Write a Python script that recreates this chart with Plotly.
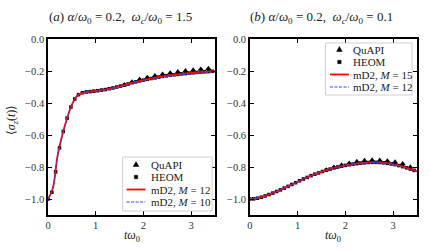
import plotly.graph_objects as go

# ---------------- data ----------------
# panel (a)
t_line = [round(0.1 * i, 2) for i in range(36)]
a_md2_m12 = [-1.000, -0.935, -0.730, -0.600, -0.495, -0.410, -0.358, -0.338, -0.331, -0.328,
             -0.325, -0.320, -0.316, -0.310, -0.303, -0.296, -0.288, -0.279, -0.271, -0.264,
             -0.257, -0.251, -0.245, -0.239, -0.234, -0.229, -0.225, -0.221, -0.218, -0.215,
             -0.212, -0.209, -0.207, -0.205, -0.203, -0.201]
a_md2_m10 = [-1.000, -0.935, -0.732, -0.602, -0.497, -0.412, -0.360, -0.340, -0.333, -0.330,
             -0.327, -0.322, -0.318, -0.313, -0.306, -0.299, -0.291, -0.283, -0.275, -0.268,
             -0.262, -0.256, -0.250, -0.244, -0.239, -0.235, -0.231, -0.227, -0.224, -0.221,
             -0.218, -0.215, -0.213, -0.211, -0.209, -0.207]

t_quapi = [1.60, 1.76, 1.92, 2.08, 2.24, 2.40, 2.56, 2.72, 2.88, 3.04, 3.20, 3.36]
a_quapi = [-0.286, -0.268, -0.252, -0.240, -0.229, -0.220, -0.212, -0.205, -0.199, -0.194,
           -0.189, -0.185]

t_heom = [round(0.08 * i, 2) for i in range(44)]
a_heom = [-1.000, -0.958, -0.830, -0.680, -0.578, -0.495, -0.425, -0.375, -0.348, -0.336,
          -0.331, -0.329, -0.326, -0.323, -0.319, -0.316, -0.311, -0.306, -0.300, -0.294,
          -0.288, -0.281, -0.273, -0.268, -0.262, -0.257, -0.252, -0.247, -0.243, -0.238,
          -0.234, -0.230, -0.227, -0.224, -0.221, -0.218, -0.216, -0.213, -0.211, -0.209,
          -0.207, -0.205, -0.204, -0.202]

# panel (b)
b_md2_m15 = [-1.000, -0.998, -0.992, -0.983, -0.972, -0.961, -0.948, -0.935, -0.921, -0.906,
             -0.892, -0.878, -0.865, -0.852, -0.841, -0.830, -0.820, -0.811, -0.803, -0.796,
             -0.790, -0.785, -0.780, -0.777, -0.774, -0.772, -0.771, -0.772, -0.774, -0.778,
             -0.783, -0.790, -0.798, -0.807, -0.817, -0.827]
b_md2_m12 = [-1.000, -0.998, -0.992, -0.983, -0.972, -0.961, -0.948, -0.935, -0.921, -0.906,
             -0.892, -0.878, -0.865, -0.852, -0.841, -0.830, -0.820, -0.811, -0.803, -0.796,
             -0.790, -0.785, -0.781, -0.777, -0.775, -0.773, -0.772, -0.773, -0.775, -0.779,
             -0.784, -0.791, -0.799, -0.808, -0.818, -0.828]
b_quapi = [-0.818, -0.802, -0.788, -0.776, -0.766, -0.760, -0.757, -0.758, -0.762, -0.769,
           -0.780, -0.800]
b_heom = [-1.000, -0.999, -0.995, -0.989, -0.981, -0.972, -0.963, -0.953, -0.943, -0.932,
          -0.921, -0.909, -0.898, -0.886, -0.875, -0.865, -0.854, -0.845, -0.837, -0.828,
          -0.820, -0.813, -0.806, -0.800, -0.795, -0.790, -0.786, -0.782, -0.779, -0.776,
          -0.774, -0.772, -0.771, -0.771, -0.772, -0.774, -0.777, -0.781, -0.785, -0.791,
          -0.798, -0.805, -0.813, -0.821]

y_ticks = [0.0, -0.2, -0.4, -0.6, -0.8, -1.0]
x_ticks = [0, 1, 2, 3]

legend_a = ["QuAPI", "HEOM", "mD2, <i>M</i> = 12", "mD2, <i>M</i> = 10"]
legend_b = ["QuAPI", "HEOM", "mD2, <i>M</i> = 15", "mD2, <i>M</i> = 12"]

FONT = "Liberation Serif"
RED = "red"
BLUE = "#3344ff"

# ---------------- figure ----------------
W, H = 430, 251
ML, MR, MT, MB = 48, 11, 39, 36
PW, PH = W - ML - MR, H - MT - MB


def px(x):
    return (x - ML) / PW


def py(y):
    return (H - MB - y) / PH


fig = go.Figure()


def add_panel(xa, ya, quapi, heom, l1, l2):
    fig.add_trace(go.Scatter(x=t_quapi, y=quapi, mode="markers", name="QuAPI",
                             marker=dict(symbol="triangle-up", size=5.5, color="black"),
                             xaxis=xa, yaxis=ya, showlegend=False))
    fig.add_trace(go.Scatter(x=t_heom, y=heom, mode="markers", name="HEOM",
                             marker=dict(symbol="square", size=3.5, color="black"),
                             xaxis=xa, yaxis=ya, showlegend=False))
    fig.add_trace(go.Scatter(x=t_line, y=l1, mode="lines", line_shape="spline",
                             line=dict(color=RED, width=1.8),
                             xaxis=xa, yaxis=ya, showlegend=False))
    fig.add_trace(go.Scatter(x=t_line, y=l2, mode="lines", line_shape="spline",
                             line=dict(color=BLUE, width=1, dash="3px,1.5px"),
                             xaxis=xa, yaxis=ya, showlegend=False))


add_panel("x", "y", a_quapi, a_heom, a_md2_m12, a_md2_m10)
add_panel("x2", "y2", b_quapi, b_heom, b_md2_m15, b_md2_m12)


def draw_legend(x0, y0, x1, y1, sym_x, text_x, rows, labels):
    fig.add_shape(type="rect", xref="paper", yref="paper",
                  x0=px(x0), x1=px(x1), y0=py(y1), y1=py(y0),
                  line=dict(color="#cccccc", width=1), fillcolor="white",
                  opacity=0.9, layer="above")
    # triangle
    cy = rows[0]
    fig.add_shape(type="path", xref="paper", yref="paper", layer="above",
                  path=f"M {px(sym_x)} {py(cy - 3)} L {px(sym_x - 2.8)} {py(cy + 2)} "
                       f"L {px(sym_x + 2.8)} {py(cy + 2)} Z",
                  fillcolor="black", line=dict(color="black", width=0.5))
    # square
    cy = rows[1]
    fig.add_shape(type="rect", xref="paper", yref="paper", layer="above",
                  x0=px(sym_x - 1.7), x1=px(sym_x + 1.7), y0=py(cy + 1.7), y1=py(cy - 1.7),
                  fillcolor="black", line=dict(color="black", width=0.5))
    # lines
    fig.add_shape(type="line", xref="paper", yref="paper", layer="above",
                  x0=px(sym_x - 9.5), x1=px(sym_x + 9.5), y0=py(rows[2]), y1=py(rows[2]),
                  line=dict(color=RED, width=1.8))
    fig.add_shape(type="line", xref="paper", yref="paper", layer="above",
                  x0=px(sym_x - 9.5), x1=px(sym_x + 9.5), y0=py(rows[3]), y1=py(rows[3]),
                  line=dict(color=BLUE, width=1, dash="3px,1.5px"))
    for lab, r in zip(labels, rows):
        fig.add_annotation(text=lab, x=px(text_x), y=py(r), xref="paper", yref="paper",
                           xanchor="left", yanchor="middle", showarrow=False,
                           font=dict(family=FONT, size=11, color="#222"))


draw_legend(123, 157, 213, 211, 136.5, 150, [164.5, 177, 189.5, 202], legend_a)
draw_legend(327, 43, 414, 95, 341, 353, [49.5, 62, 74.5, 87], legend_b)

axis_common = dict(showline=True, linecolor="black", linewidth=1.5, mirror="ticks",
                   ticks="inside", ticklen=4, tickwidth=1.2, tickcolor="black",
                   showgrid=False, zeroline=False,
                   tickfont=dict(family=FONT, size=10.5, color="#333"))

fig.update_layout(
    width=W, height=H,
    margin=dict(l=ML, r=MR, t=MT, b=MB),
    plot_bgcolor="white", paper_bgcolor="white",
    font=dict(family=FONT, size=10, color="#222"),
    xaxis=dict(domain=[0, px(216)], range=[0, 3.5], tickvals=x_ticks, **axis_common),
    xaxis2=dict(domain=[px(251), 1], range=[0, 3.5], tickvals=x_ticks, **axis_common),
    yaxis=dict(range=[-1.1, 0], tickvals=y_ticks, tickformat=".1f", **axis_common),
    yaxis2=dict(range=[-1.1, 0], tickvals=y_ticks, tickformat=".1f", anchor="x2",
                **axis_common),
    showlegend=False,
)

ann_font = dict(family=FONT, size=13, color="#222")
fig.add_annotation(text="(<i>a</i>) <i>α</i>/<i>ω</i><sub>0</sub> = 0.2,  <i>ω<sub>c</sub></i>/<i>ω</i><sub>0</sub> = 1.5",
                   x=px(121), y=py(17), xref="paper", yref="paper", xanchor="center",
                   yanchor="middle", showarrow=False, font=ann_font)
fig.add_annotation(text="(<i>b</i>) <i>α</i>/<i>ω</i><sub>0</sub> = 0.2,  <i>ω<sub>c</sub></i>/<i>ω</i><sub>0</sub> = 0.1",
                   x=px(323), y=py(17), xref="paper", yref="paper", xanchor="center",
                   yanchor="middle", showarrow=False, font=ann_font)
fig.add_annotation(text="⟨<i>σ<sub>z</sub></i>(<i>t</i>)⟩", textangle=-90,
                   x=px(12), y=py(120), xref="paper", yref="paper", xanchor="center",
                   yanchor="middle", showarrow=False, font=dict(family=FONT, size=12, color="#222"))
fig.add_annotation(text="<i>tω</i><sub>0</sub>", x=px(132), y=py(236), xref="paper", yref="paper",
                   xanchor="center", yanchor="middle", showarrow=False,
                   font=dict(family=FONT, size=12, color="#222"))
fig.add_annotation(text="<i>tω</i><sub>0</sub>", x=px(335), y=py(236), xref="paper", yref="paper",
                   xanchor="center", yanchor="middle", showarrow=False,
                   font=dict(family=FONT, size=12, color="#222"))

fig.write_html("out.html", config={"displayModeBar": False},
               post_script="document.body.style.margin='0';")
